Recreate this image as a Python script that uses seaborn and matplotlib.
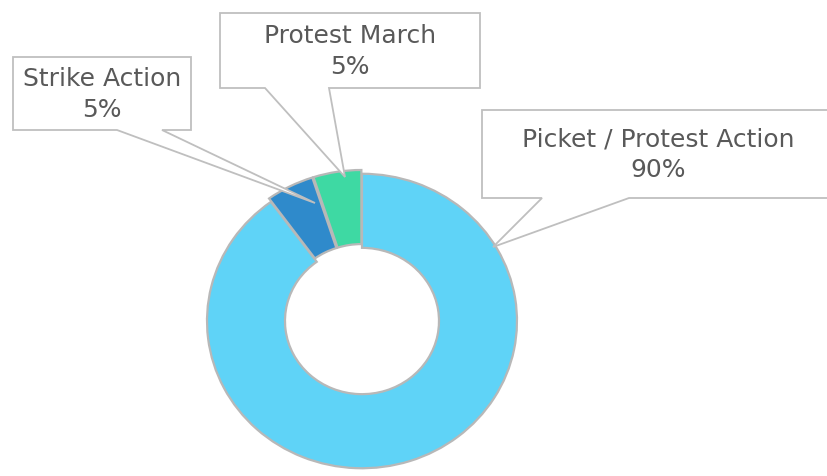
"""
Donut chart of protest action types with callout labels
"""
import matplotlib.pyplot as plt
import seaborn as sns

sns.set_theme(style="white")
plt.rcParams["font.family"] = ["DejaVu Sans"]

categories = ["Picket / Protest Action", "Strike Action", "Protest March"]
shares = [90, 5, 5]
colors = ["#5FD3F7", "#2F8ACB", "#3ED9A3"]

# callout layout in pixel space (x from left, y from top)
boxes = {
    "Picket / Protest Action": (482, 110, 350, 88),
    "Strike Action": (13, 57, 178, 73),
    "Protest March": (220, 13, 260, 75),
}
pointers = {
    "Picket / Protest Action": ((542, 629), (493, 247)),
    "Strike Action": ((117, 162), (315, 203)),
    "Protest March": ((265, 329), (345, 177)),
}

W, H = 828, 476
SQUASH = 0.95  # ring is drawn a little flatter than round
TEXT_COLOR = "#595959"
LINE_COLOR = "#BFBFBF"


def to_y(py):
    """convert pixel row to data y"""
    return (H - py) / SQUASH


def draw_donut(ax):
    """draw the ring with the small slices pulled out a little"""
    wedges, _ = ax.pie(
        shares,
        colors=colors,
        startangle=90,
        counterclock=False,
        center=(362, to_y(321)),
        radius=155,
        explode=[0, 4, 4],
        wedgeprops=dict(width=78, edgecolor="#B8B8B8", linewidth=1.6),
    )
    return wedges


def draw_callouts(ax):
    """boxes with a wedge-shaped leader pointing at each slice"""
    for name, share in zip(categories, shares):
        x, y, w, h = boxes[name]
        (bx0, bx1), (tx, ty) = pointers[name]
        bottom = y + h
        ax.fill(
            [x, x + w, x + w, bx1, tx, bx0, x],
            [to_y(y), to_y(y), to_y(bottom), to_y(bottom), to_y(ty),
             to_y(bottom), to_y(bottom)],
            facecolor="white", edgecolor=LINE_COLOR, linewidth=1.3,
            zorder=5,
        )
        cx = x + w / 2 if name != "Picket / Protest Action" else 658
        ax.text(cx, to_y(y + h / 2 + 1), f"{name}\n{share}%", ha="center",
                va="center", fontsize=18, color=TEXT_COLOR,
                linespacing=1.35, zorder=6)


fig = plt.figure(figsize=(8.28, 4.76), dpi=100)
ax = fig.add_axes([0, 0, 1, 1])
draw_donut(ax)
draw_callouts(ax)
ax.set_aspect("auto")
ax.set_xlim(0, W)
ax.set_ylim(0, H / SQUASH)
ax.axis("off")
fig.savefig("out.png", dpi=100, facecolor="white")
